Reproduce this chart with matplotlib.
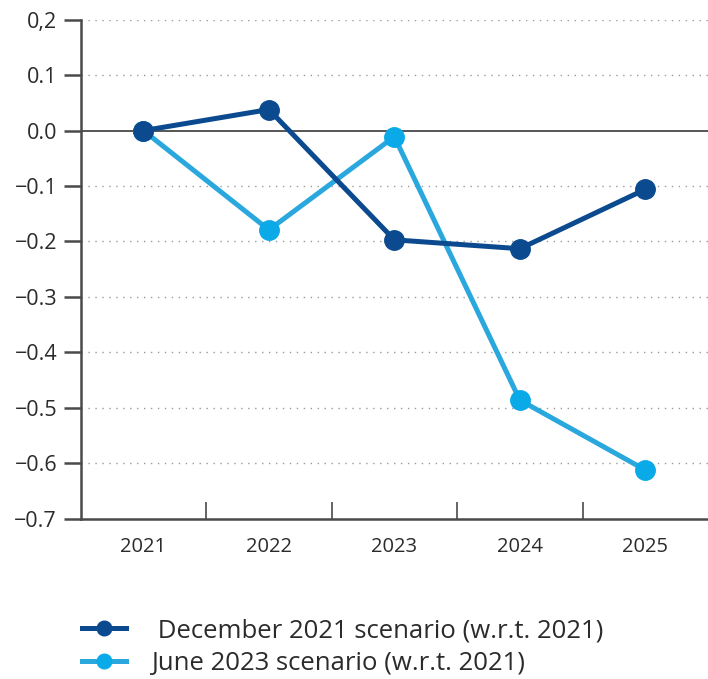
import numpy as np
import matplotlib.pyplot as plt

plt.rcParams['font.family'] = ['Open Sans', 'DejaVu Sans']

# Werte aus den beiden Szenarien (Abweichung ggü. 2021)
years = [2021, 2022, 2023, 2024, 2025]
dec_2021 = [0.0, 0.038, -0.197, -0.213, -0.106]
jun_2023 = [0.0, -0.179, -0.011, -0.486, -0.612]
yticks = [0.2, 0.1, 0.0, -0.1, -0.2, -0.3, -0.4, -0.5, -0.6, -0.7]
ytick_labels = ['0,2', '0.1', '0.0', '\u22120.1', '\u22120.2', '\u22120.3',
                '\u22120.4', '\u22120.5', '\u22120.6', '\u22120.7']

dark_blue = '#0b4a8e'
light_blue = '#2aa8de'
light_marker = '#0aa9e8'
axis_grey = '#4a4a4a'

fig = plt.figure(figsize=(7.08, 6.79), dpi=100)
ax = fig.add_axes([0.114, 0.236, 0.886, 0.735])

x = np.arange(len(years))
ax.plot(x, dec_2021, color=dark_blue, lw=3.6, marker='o', ms=14,
        markerfacecolor=dark_blue, markeredgecolor=dark_blue, zorder=4,
        label=' December 2021 scenario (w.r.t. 2021)')
ax.plot(x, jun_2023, color=light_blue, lw=3.6, marker='o', ms=14,
        markerfacecolor=light_marker, markeredgecolor=light_marker, zorder=3,
        label='June 2023 scenario (w.r.t. 2021)')

ax.set_xlim(-0.5, len(years) - 0.5)
ax.set_ylim(-0.7, 0.2)

# Gitterlinien gepunktet, Nulllinie durchgezogen
for yv in yticks:
    if yv == 0.0:
        ax.axhline(yv, color='#555555', lw=1.4, zorder=1)
    elif yv != -0.7:
        ax.axhline(yv, color='#9a9a9a', lw=1.0, ls=(0, (1, 4)), zorder=1)

ax.set_yticks(yticks)
ax.set_yticklabels(ytick_labels)
ax.set_xticks(x)
ax.set_xticklabels([str(y) for y in years])
ax.set_xticks(x[:-1] + 0.5, minor=True)

for side in ['top', 'right']:
    ax.spines[side].set_visible(False)
for side in ['left', 'bottom']:
    ax.spines[side].set_color(axis_grey)
    ax.spines[side].set_linewidth(1.8)

ax.tick_params(axis='y', length=12, width=1.8, color=axis_grey, labelsize=15.5,
               labelcolor='#2b2b2b', pad=5)
ax.tick_params(axis='x', which='major', length=0, labelsize=14.5,
               labelcolor='#2b2b2b', pad=13)
ax.tick_params(axis='x', which='minor', direction='in', length=12, width=1.2,
               color=axis_grey)

fig.legend(loc='lower left', bbox_to_anchor=(0.083, -0.03), frameon=False,
           fontsize=18.5, handlelength=1.7, handletextpad=1.0, labelspacing=0.32,
           markerscale=0.75, labelcolor='#2b2b2b')

fig.savefig('out.png', dpi=100)
